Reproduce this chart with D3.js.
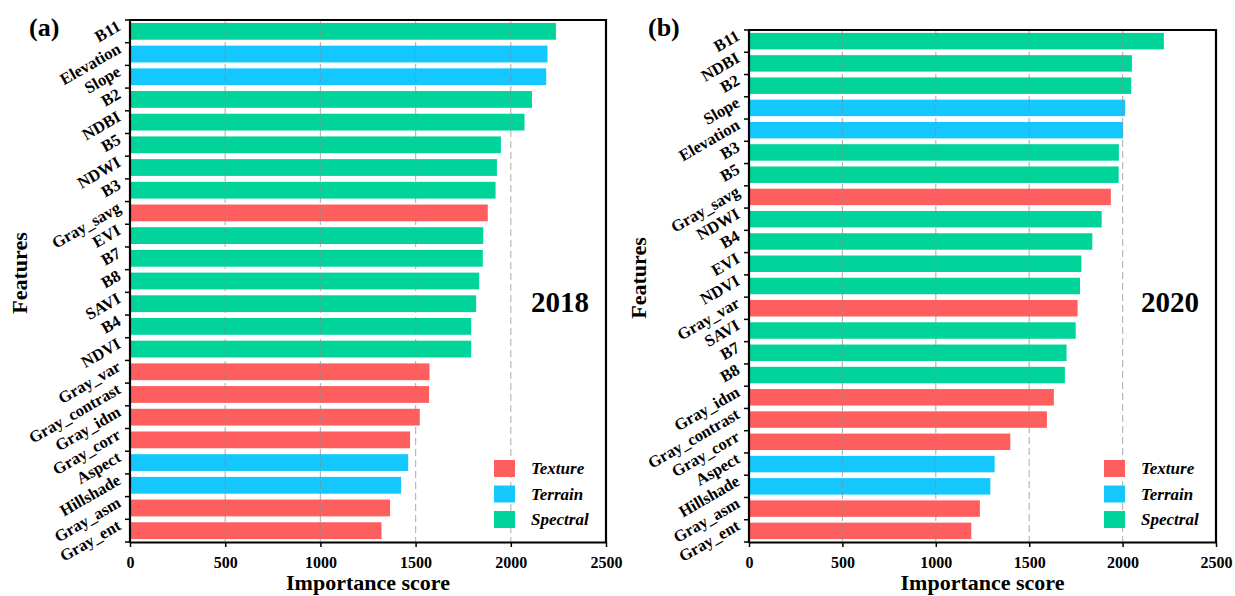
<!DOCTYPE html>
<html>
<head>
<meta charset="utf-8">
<script src="https://cdn.jsdelivr.net/npm/d3@7"></script>
<style>
  body { margin: 0; background: #fff; }
  svg, svg text { font-family: "Liberation Serif", "Times New Roman", Tinos, "DejaVu Serif", serif; }
</style>
</head>
<body>
<svg width="1235" height="596"></svg>
<script>
// feature names, top to bottom
const features2018 = ["B11", "Elevation", "Slope", "B2", "NDBI", "B5", "NDWI", "B3", "Gray_savg", "EVI", "B7", "B8",
  "SAVI", "B4", "NDVI", "Gray_var", "Gray_contrast", "Gray_idm", "Gray_corr", "Aspect", "Hillshade", "Gray_asm", "Gray_ent"];
const scores2018 = [2237, 2193, 2186, 2111, 2072, 1948, 1927, 1920, 1879, 1855, 1853, 1834,
  1818, 1792, 1792, 1573, 1571, 1522, 1471, 1461, 1424, 1366, 1321];

const features2020 = ["B11", "NDBI", "B2", "Slope", "Elevation", "B3", "B5", "Gray_savg", "NDWI", "B4", "EVI", "NDVI",
  "Gray_var", "SAVI", "B7", "B8", "Gray_idm", "Gray_contrast", "Gray_corr", "Aspect", "Hillshade", "Gray_asm", "Gray_ent"];
const scores2020 = [2221, 2050, 2046, 2014, 2002, 1980, 1979, 1937, 1888, 1838, 1779, 1772,
  1759, 1749, 1700, 1691, 1632, 1595, 1399, 1315, 1292, 1236, 1190];

const groups = ["Texture", "Terrain", "Spectral"];
const groupColors = ["#ff5e5e", "#14c8ff", "#00d49a"];
const xTicks = [0, 500, 1000, 1500, 2000, 2500];

const color = d3.scaleOrdinal().domain(groups).range(groupColors);
const FONT = '"Liberation Serif", "Times New Roman", Tinos, "DejaVu Serif", serif';

function groupOf(name) {
  if (name.startsWith("Gray")) return "Texture";
  if (["Elevation", "Slope", "Aspect", "Hillshade"].includes(name)) return "Terrain";
  return "Spectral";
}

const svg = d3.select("svg");

function drawPanel(opt) {
  const { left, right, top, bottom, names, values, tag, year } = opt;
  const g = svg.append("g").attr("font-family", FONT);

  const x = d3.scaleLinear().domain([0, 2500]).range([left, right]);
  const y = d3.scaleBand().domain(names).range([top, bottom]).paddingInner(0.26).paddingOuter(0.13);

  // bars
  g.selectAll(".bar")
    .data(names)
    .enter()
    .append("rect")
    .attr("x", x(0))
    .attr("y", d => y(d))
    .attr("width", (d, i) => x(values[i]) - x(0))
    .attr("height", y.bandwidth())
    .attr("fill", d => color(groupOf(d)));

  // dashed grid, faint over bars
  g.selectAll(".grid")
    .data(xTicks.slice(1, -1))
    .enter()
    .append("line")
    .attr("x1", d => x(d)).attr("x2", d => x(d))
    .attr("y1", top).attr("y2", bottom)
    .attr("stroke", "#8a8a8a")
    .attr("stroke-opacity", 0.6)
    .attr("stroke-width", 1.2)
    .attr("stroke-dasharray", "7,4");

  // x axis
  const xAxis = g.append("g")
    .attr("transform", `translate(0,${bottom})`)
    .call(d3.axisBottom(x).tickValues(xTicks).tickFormat(d3.format("d")).tickSize(5).tickSizeOuter(0));
  xAxis.attr("font-family", FONT);
  xAxis.select(".domain").attr("stroke-width", 2.2);
  xAxis.selectAll(".tick line").attr("stroke-width", 1.5);
  xAxis.selectAll("text")
    .attr("font-size", 16).attr("font-weight", "bold")
    .attr("fill", "#000")
    .attr("dy", "1.15em");

  // y axis: ticks at band edges
  const step = (bottom - top) / names.length;
  const edges = d3.range(names.length + 1).map(i => top + i * step);
  g.selectAll(".ytick")
    .data(edges)
    .enter()
    .append("line")
    .attr("x1", left - 5).attr("x2", left)
    .attr("y1", d => d).attr("y2", d => d)
    .attr("stroke", "#000").attr("stroke-width", 1.5);
  g.append("line")
    .attr("x1", left).attr("x2", left)
    .attr("y1", top - 1).attr("y2", bottom + 1)
    .attr("stroke", "#000").attr("stroke-width", 2.2);

  // frame top/right
  g.append("path")
    .attr("d", `M${left},${top}H${right}V${bottom}`)
    .attr("fill", "none").attr("stroke", "#000").attr("stroke-width", 2.2);

  // rotated feature labels
  g.selectAll(".ylab")
    .data(names)
    .enter()
    .append("text")
    .attr("transform", d => `translate(${left - 11},${y(d) + y.bandwidth() / 2 - 7}) rotate(-30)`)
    .attr("text-anchor", "end")
    .attr("dy", "0.35em")
    .attr("font-size", 16.5).attr("font-weight", "bold")
    .text(d => d);

  // axis titles
  g.append("text")
    .attr("x", (left + right) / 2).attr("y", 590)
    .attr("text-anchor", "middle")
    .attr("font-size", 22).attr("font-weight", "bold")
    .text("Importance score");
  g.append("text")
    .attr("transform", `translate(${left - 103},${(top + bottom) / 2 - 8}) rotate(-90)`)
    .attr("text-anchor", "middle")
    .attr("font-size", 22).attr("font-weight", "bold")
    .text("Features");

  // panel tag and year
  g.append("text")
    .attr("x", left - 101).attr("y", 36)
    .attr("font-size", 26).attr("font-weight", "bold")
    .text(tag);
  g.append("text")
    .attr("x", right - 17).attr("y", 312)
    .attr("text-anchor", "end")
    .attr("font-size", 29).attr("font-weight", "bold")
    .text(year);

  // legend
  const lg = g.append("g").attr("transform", `translate(${right - 112},460)`);
  groups.forEach((grp, i) => {
    lg.append("rect")
      .attr("x", 0).attr("y", i * 25.5)
      .attr("width", 21).attr("height", 17)
      .attr("fill", color(grp));
    lg.append("text")
      .attr("x", 37).attr("y", i * 25.5 + 8.5)
      .attr("dy", "0.35em")
      .attr("font-size", 17).attr("font-weight", "bold").attr("font-style", "italic")
      .text(grp);
  });
}

drawPanel({ left: 130, right: 606, top: 20, bottom: 542, names: features2018, values: scores2018, tag: "(a)", year: "2018" });
drawPanel({ left: 749, right: 1216, top: 30, bottom: 542, names: features2020, values: scores2020, tag: "(b)", year: "2020" });
</script>
</body>
</html>
